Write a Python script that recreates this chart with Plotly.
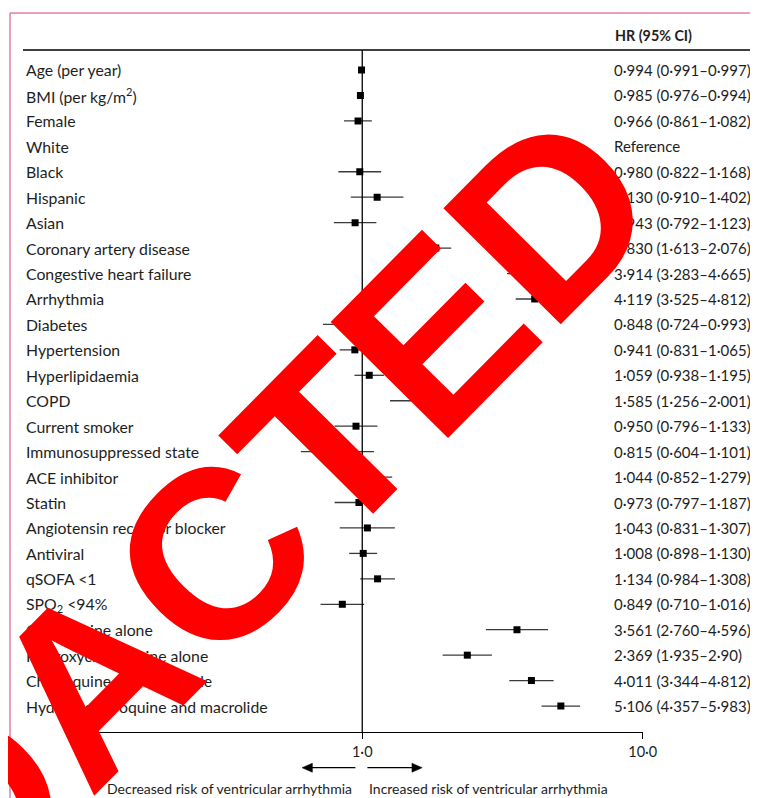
import plotly.graph_objects as go

# Empirical page mapping: screen_x = OFF + S * fig_x, screen_y = OFF + fig_y.
OFF = 8
S = 0.9793
W, H = 766, 790

labels = [
    "Age (per year)", "BMI (per kg/m<sup>2</sup>)", "Female", "White", "Black",
    "Hispanic", "Asian", "Coronary artery disease", "Congestive heart failure",
    "Arrhythmia", "Diabetes", "Hypertension", "Hyperlipidaemia", "COPD",
    "Current smoker", "Immunosuppressed state", "ACE inhibitor", "Statin",
    "Angiotensin receptor blocker", "Antiviral", "qSOFA &lt;1", "SPO<sub>2</sub> &lt;94%",
    "Chloroquine alone", "Hydroxychloroquine alone", "Chloroquine and macrolide",
    "Hydroxychloroquine and macrolide",
]
hr = [0.994, 0.985, 0.966, None, 0.980, 1.130, 0.943, 1.830, 3.914, 4.119, 0.848,
      0.941, 1.059, 1.585, 0.950, 0.815, 1.044, 0.973, 1.043, 1.008, 1.134, 0.849,
      3.561, 2.369, 4.011, 5.106]
lo = [0.991, 0.976, 0.861, None, 0.822, 0.910, 0.792, 1.613, 3.283, 3.525, 0.724,
      0.831, 0.938, 1.256, 0.796, 0.604, 0.852, 0.797, 0.831, 0.898, 0.984, 0.710,
      2.760, 1.935, 3.344, 4.357]
hi = [0.997, 0.994, 1.082, None, 1.168, 1.402, 1.123, 2.076, 4.665, 4.812, 0.993,
      1.065, 1.195, 2.001, 1.133, 1.101, 1.279, 1.187, 1.307, 1.130, 1.308, 1.016,
      4.596, 2.90, 4.812, 5.983]
ci_text = [
    "0·994 (0·991–0·997)", "0·985 (0·976–0·994)", "0·966 (0·861–1·082)", "Reference",
    "0·980 (0·822–1·168)", "1·130 (0·910–1·402)", "0·943 (0·792–1·123)",
    "1·830 (1·613–2·076)", "3·914 (3·283–4·665)", "4·119 (3·525–4·812)",
    "0·848 (0·724–0·993)", "0·941 (0·831–1·065)", "1·059 (0·938–1·195)",
    "1·585 (1·256–2·001)", "0·950 (0·796–1·133)", "0·815 (0·604–1·101)",
    "1·044 (0·852–1·279)", "0·973 (0·797–1·187)", "1·043 (0·831–1·307)",
    "1·008 (0·898–1·130)", "1·134 (0·984–1·308)", "0·849 (0·710–1·016)",
    "3·561 (2·760–4·596)", "2·369 (1·935–2·90)", "4·011 (3·344–4·812)",
    "5·106 (4·357–5·983)",
]
tick_vals = [1, 10]
tick_text = ["1·0", "10·0"]

FONT = "Lato"
TXT = "#1e1e1e"

rows = list(range(len(labels)))
plus = [None if h is None else u - h for h, u in zip(hr, hi)]
minus = [None if h is None else h - l for h, l in zip(hr, lo)]

fig = go.Figure()
fig.add_trace(go.Scatter(
    x=hr, y=rows, mode="markers",
    marker=dict(symbol="square", size=7, color="black"),
    error_x=dict(type="data", symmetric=False, array=plus, arrayminus=minus,
                 color="#3a3a3a", thickness=1.3, width=0),
    showlegend=False, hoverinfo="skip",
))

def px(x):
    return ((x - OFF) / S) / W

def py(y):
    return 1 - (y - OFF) / H

x_dom = [px(81.7), px(642)]
y_dom = [py(732), py(50)]

fig.update_layout(
    width=W, height=H, autosize=False,
    margin=dict(l=0, r=0, t=0, b=0),
    paper_bgcolor="white", plot_bgcolor="white",
    font=dict(family=FONT, color=TXT, size=15.8),
    xaxis=dict(type="log", range=[-1, 1], domain=x_dom, showgrid=False, zeroline=False,
               showline=True, linecolor="black", linewidth=1.2,
               ticks="outside", ticklen=6, tickwidth=1.2, tickcolor="black",
               tickvals=tick_vals, ticktext=tick_text,
               tickfont=dict(family=FONT, size=14.5, color=TXT)),
    yaxis=dict(range=[26.02, -0.786], domain=y_dom, visible=False),
)

AY = 767.7
shapes = [
    # vertical line at HR = 1
    dict(type="line", xref="x", yref="paper", x0=1, x1=1, y0=y_dom[0], y1=y_dom[1],
         line=dict(color="black", width=1.3)),
    # header rule
    dict(type="line", xref="paper", yref="paper", x0=px(23), x1=1, y0=py(50), y1=py(50),
         line=dict(color="black", width=1.3)),
    # pink frame
    dict(type="line", xref="paper", yref="paper", x0=px(10), x1=1, y0=py(13), y1=py(13),
         line=dict(color="#d6436b", width=1)),
    dict(type="line", xref="paper", yref="paper", x0=px(10), x1=px(10), y0=0, y1=py(13),
         line=dict(color="#d6436b", width=1)),
    # direction arrows
    dict(type="line", xref="paper", yref="paper", x0=px(311), x1=px(355), y0=py(AY), y1=py(AY),
         line=dict(color="black", width=1.3)),
    dict(type="path", xref="paper", yref="paper",
         path=f"M {px(301.7)},{py(AY)} L {px(312)},{py(AY-4.5)} L {px(312)},{py(AY+4.5)} Z",
         fillcolor="black", line=dict(color="black", width=0.5)),
    dict(type="line", xref="paper", yref="paper", x0=px(367), x1=px(412), y0=py(AY), y1=py(AY),
         line=dict(color="black", width=1.3)),
    dict(type="path", xref="paper", yref="paper",
         path=f"M {px(421.7)},{py(AY)} L {px(411.5)},{py(AY-4.5)} L {px(411.5)},{py(AY+4.5)} Z",
         fillcolor="black", line=dict(color="black", width=0.5)),
]
fig.update_layout(shapes=shapes)

ann = []
for i, (lab, ci) in enumerate(zip(labels, ci_text)):
    ann.append(dict(x=px(24), y=i, xref="paper", yref="y", text=lab, showarrow=False,
                    xanchor="left", yanchor="middle"))
    ann.append(dict(x=px(611), y=i, xref="paper", yref="y", text=ci, showarrow=False,
                    xanchor="left", yanchor="middle", font=dict(size=15.0)))
ann.append(dict(x=px(612), y=py(36), xref="paper", yref="paper", text="<b>HR (95% CI)</b>",
                showarrow=False, xanchor="left", yanchor="middle", font=dict(size=14.3)))
ann.append(dict(x=px(354), y=py(788), xref="paper", yref="paper",
                text="Decreased risk of ventricular arrhythmia", showarrow=False,
                xanchor="right", yanchor="middle", font=dict(size=14)))
ann.append(dict(x=px(367), y=py(788), xref="paper", yref="paper",
                text="Increased risk of ventricular arrhythmia", showarrow=False,
                xanchor="left", yanchor="middle", font=dict(size=14)))
# watermark
ann.append(dict(x=px(143.3), y=py(628.3), xref="paper", yref="paper", text="<b>REDACTED</b>",
                showarrow=False, xanchor="center", yanchor="middle", textangle=-45.3,
                font=dict(family="Liberation Sans", size=240, color="#ff0000")))
fig.update_layout(annotations=ann)

fig.write_html("out.html")
